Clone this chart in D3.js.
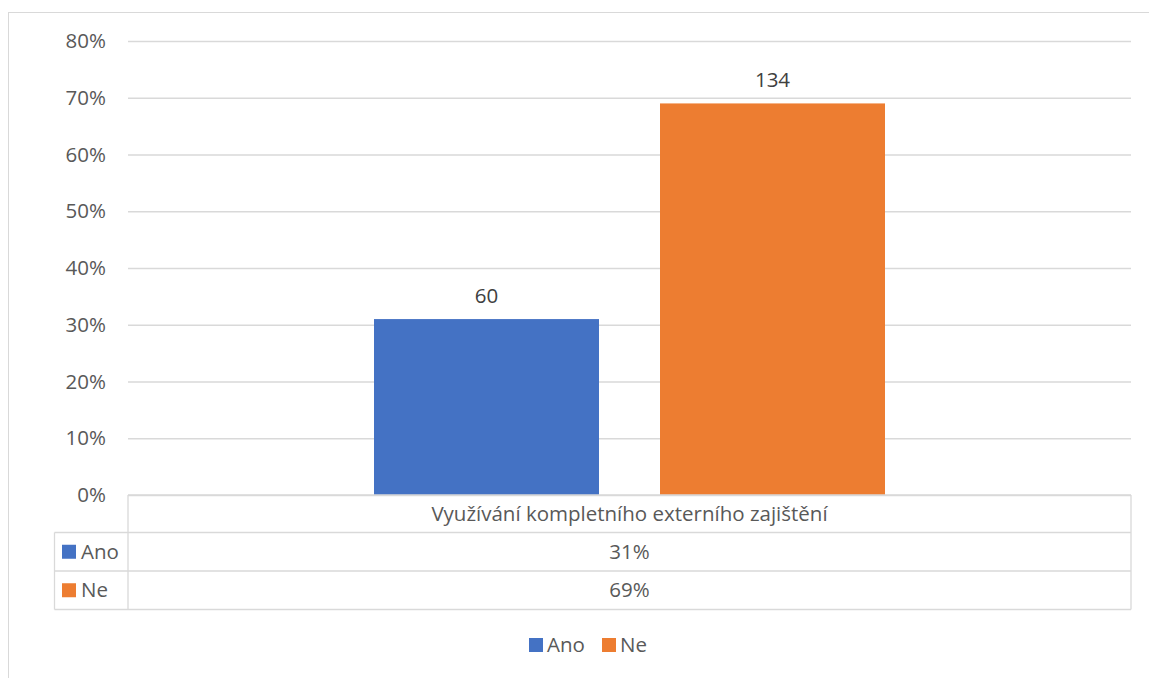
<!DOCTYPE html>
<html><head><meta charset="utf-8">
<script src="https://cdn.jsdelivr.net/npm/d3@7"></script>
<style>body{margin:0;background:#fff}svg{display:block}text{font-family:"Open Sans","Noto Sans",sans-serif}</style>
</head><body><svg id="c" width="1149" height="678"></svg>
<script>
const category = "Využívání kompletního externího zajištění";
const series = ["Ano", "Ne"];
const percents = [31, 69];
const counts = [60, 134];
const colors = ["#4472C4", "#ED7D31"];
const yTicks = [0, 10, 20, 30, 40, 50, 60, 70, 80];

(function () {
const svg = d3.select("#c");
const pl = 128, pr = 1131, pt = 41, pb = 495;
const fs = 20.5, txt = "#595959";

svg.append("rect").attr("x", 8.5).attr("y", 12.5).attr("width", 1160).attr("height", 700)
  .attr("fill", "none").attr("stroke", "#d9d9d9");

const y = d3.scaleLinear().domain([0, 80]).range([pb, pt]);
const x = d3.scaleBand().domain(series).range([374, 885]).paddingInner(61 / 286).paddingOuter(0);
const color = d3.scaleOrdinal().domain(series).range(colors);

const yAxis = d3.axisLeft(y).tickValues(yTicks).tickFormat(d => d + "%").tickSize(-(pr - pl)).tickPadding(22);
const gy = svg.append("g").attr("transform", `translate(${pl},0)`).call(yAxis);
gy.select(".domain").remove();
gy.selectAll(".tick line").attr("stroke", "#d9d9d9").attr("stroke-width", 1.3);
gy.selectAll(".tick text").attr("fill", txt).attr("font-size", fs).attr("font-family", '"Open Sans",sans-serif');

svg.selectAll("rect.bar").data(series).join("rect").attr("class", "bar")
  .attr("x", d => x(d))
  .attr("width", x.bandwidth())
  .attr("y", (d, i) => y(percents[i]))
  .attr("height", (d, i) => y(0) - y(percents[i]))
  .attr("fill", d => color(d));

svg.selectAll("text.lbl").data(series).join("text").attr("class", "lbl")
  .attr("x", d => x(d) + x.bandwidth() / 2)
  .attr("y", (d, i) => y(percents[i]) - 16)
  .attr("text-anchor", "middle").attr("fill", "#404040").attr("font-size", fs)
  .text((d, i) => counts[i]);

const rows = [495, 532.5, 571, 609.5];
const tl = 54.5, tv = 128;
const g = svg.append("g").attr("stroke", "#d9d9d9").attr("stroke-width", 1.3).attr("fill", "none");
g.append("line").attr("x1", tv).attr("x2", pr).attr("y1", rows[0]).attr("y2", rows[0]);
[1, 2, 3].forEach(k => g.append("line").attr("x1", tl).attr("x2", pr).attr("y1", rows[k]).attr("y2", rows[k]));
g.append("line").attr("x1", tv).attr("x2", tv).attr("y1", rows[0]).attr("y2", rows[3]);
g.append("line").attr("x1", pr).attr("x2", pr).attr("y1", rows[0]).attr("y2", rows[3]);
g.append("line").attr("x1", tl).attr("x2", tl).attr("y1", rows[1]).attr("y2", rows[3]);

const cx = (tv + pr) / 2;
svg.append("text").attr("x", cx).attr("y", (rows[0] + rows[1]) / 2 + 7)
  .attr("text-anchor", "middle").attr("fill", txt).attr("font-size", fs).text(category);

series.forEach((s, i) => {
  const ry = (rows[i + 1] + rows[i + 2]) / 2;
  svg.append("rect").attr("x", 62).attr("y", ry - 7).attr("width", 14).attr("height", 14).attr("fill", color(s));
  svg.append("text").attr("x", 81).attr("y", ry + 7).attr("fill", txt).attr("font-size", fs).text(s);
  svg.append("text").attr("x", cx).attr("y", ry + 7).attr("text-anchor", "middle")
    .attr("fill", txt).attr("font-size", fs).text(percents[i] + "%");
});

const lx = [529, 602];
series.forEach((s, i) => {
  svg.append("rect").attr("x", lx[i]).attr("y", 638).attr("width", 14).attr("height", 14).attr("fill", color(s));
  svg.append("text").attr("x", lx[i] + 18).attr("y", 652).attr("fill", txt).attr("font-size", fs).text(s);
});
})();
</script></body></html>
